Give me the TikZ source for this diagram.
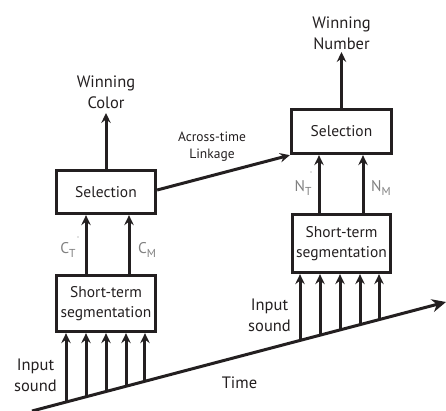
\documentclass[tikz,border=0pt]{standalone}
\usepackage{fontspec}
\setmainfont{PT Sans}
\usetikzlibrary{arrows.meta,calc}
\definecolor{lblgray}{RGB}{128,128,128}
\definecolor{ink}{RGB}{35,31,32}
\tikzset{
  box/.style={draw=ink, line width=3.3pt, inner sep=0pt, align=center, text=ink, font=\fontsize{15.5}{20}\selectfont},
  arr/.style={draw=ink, line width=3pt, -{Stealth[length=10pt,width=9.5pt,inset=3.5pt]}},
  txt/.style={inner sep=0pt, align=center, text=ink, font=\fontsize{16.5}{21}\selectfont},
  small/.style={inner sep=0pt, align=center, text=ink, font=\fontsize{13.5}{17}\selectfont},
  sub/.style={inner sep=0pt, text=lblgray, font=\fontsize{15.5}{16}\selectfont}
}
\newcommand{\subl}[2]{#1\raisebox{-0.45ex}{\fontsize{11.5}{12}\selectfont #2}}
\begin{document}
\begin{tikzpicture}[x=1pt,y=-1pt]
\useasboundingbox (0,0) rectangle (446,411);
% boxes
\node[box, minimum width=99pt, minimum height=43pt] (selL) at (106,192) {Selection};
\node[box, minimum width=99pt, minimum height=56pt] (segL) at (106,303.5) {Short-term\\segmentation};
\node[box, minimum width=100pt, minimum height=44pt] (selR) at (341.5,131.5) {Selection};
\node[box, minimum width=98pt, minimum height=58pt] (segR) at (341.5,243.5) {Short-term\\segmentation};
% outputs
\coordinate (outL) at (106,113);
\coordinate (outR) at (341.5,52);
\draw[arr] (selL.north) -- (outL);
\draw[arr] (selR.north) -- (outR);
\node[txt, anchor=south] (wc) at ([yshift=4pt]outL) {Winning\\Color};
\node[txt, anchor=south] (wn) at ([yshift=2pt]outR) {Winning\\Number};
% inner arrows
\draw[arr] (segL.north -| 86,0) -- (selL.south -| 86,0);
\draw[arr] (segL.north -| 129,0) -- (selL.south -| 129,0);
\draw[arr] (segR.north -| 319,0) -- (selR.south -| 319,0);
\draw[arr] (segR.north -| 363,0) -- (selR.south -| 363,0);
\node[sub] (ct) at (68,250) {\subl{C}{T}};
\node[sub] (cm) at (147,250) {\subl{C}{M}};
\node[sub] (nt) at (303,188) {\subl{N}{T}};
\node[sub] (nm) at (381,188) {\subl{N}{M}};
\fill[lblgray] (78,237) circle (0.6pt);
\fill[lblgray] (311,172) circle (0.6pt);
% time line
\coordinate (t0) at (32,411);
\coordinate (t1) at (446,302);
\draw[draw=ink, line width=3pt, -{Stealth[length=14pt,width=13pt,inset=4.5pt]}] (t0) -- (t1);
\node[txt] (time) at (239.5,383) {Time};
% input arrows
\foreach \xx [count=\i] in {66,86,106,126,145} {
  \coordinate (inL\i) at ($(t0)!{(\xx-32)/414}!(t1)$);
  \draw[arr] (inL\i) -- (segL.south -| inL\i);
}
\foreach \xx [count=\i] in {300,320,340,360,379} {
  \coordinate (inR\i) at ($(t0)!{(\xx-32)/414}!(t1)$);
  \draw[arr] (inR\i) -- (segR.south -| inR\i);
}
\node[txt] (isL) at (35.5,375.5) {Input\\sound};
\node[txt] (isR) at (269.5,315.5) {Input\\sound};
% linkage
\draw[arr] (selL.east |- 0,190) -- (selR.south west);
\node[small] (lk) at (212,147) {Across-time\\Linkage};
\end{tikzpicture}
\end{document}
